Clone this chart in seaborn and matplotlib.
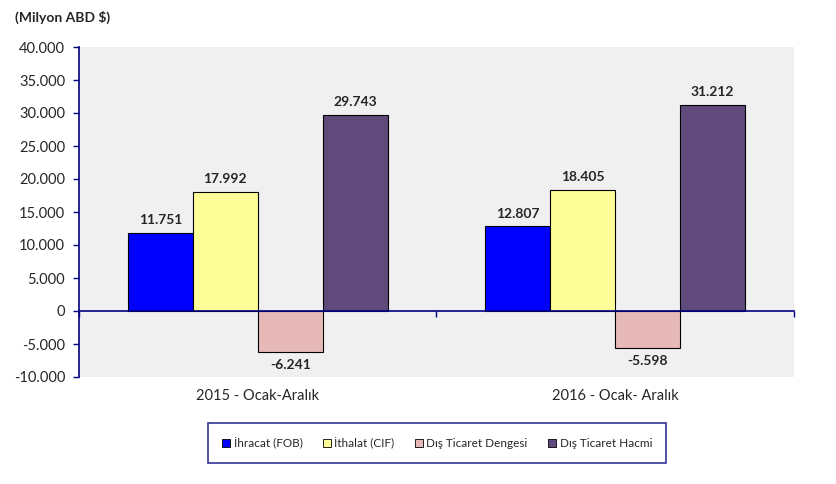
import matplotlib
matplotlib.use("Agg")
import matplotlib.pyplot as plt
import matplotlib.transforms as mtransforms
from matplotlib.patches import Patch
import seaborn as sns
import pandas as pd

periods = ["2015 - Ocak-Aralık", "2016 - Ocak- Aralık"]
series = ["İhracat (FOB)", "İthalat (CIF)", "Dış Ticaret Dengesi", "Dış Ticaret Hacmi"]
ihracat = [11751, 12807]
ithalat = [17992, 18405]
denge = [-6241, -5598]
hacim = [29743, 31212]
colors = ["#0000FF", "#FFFF99", "#E6B9B8", "#604A7B"]
yticks = [-10000, -5000, 0, 5000, 10000, 15000, 20000, 25000, 30000, 35000, 40000]

rows = []
for name, vals in zip(series, [ihracat, ithalat, denge, hacim]):
    for p, v in zip(periods, vals):
        rows.append({"period": p, "series": name, "value": v})
df = pd.DataFrame(rows)

sns.set_theme(style="white")
plt.rcParams["font.family"] = ["Lato", "DejaVu Sans"]
navy = "#000080"

fig = plt.figure(figsize=(8.37, 4.84), dpi=100)
ax = fig.add_axes([79/837, 1-377/484, (794-79)/837, (377-47)/484])
ax.set_facecolor("#F0F0F0")

sns.barplot(data=df, x="period", y="value", hue="series", hue_order=series,
            order=periods, palette=colors, width=0.727, edgecolor="black",
            linewidth=0.8, ax=ax, legend=False, saturation=1)

ax.set_ylim(-10000, 40000)
ax.set_xlim(-0.5, 1.5)
ax.set_yticks(yticks)
ax.set_yticklabels([f"{v:,}".replace(",", ".") for v in yticks], fontsize=10.5)
ax.tick_params(axis="y", direction="out", length=4, color=navy, width=1, pad=6, left=True)
ax.set_xlabel("")
ax.set_ylabel("")

for s in ["top", "right"]:
    ax.spines[s].set_visible(False)
ax.spines["left"].set_color(navy)
ax.spines["left"].set_linewidth(1.2)
ax.spines["bottom"].set_position(("data", 0))
ax.spines["bottom"].set_color(navy)
ax.spines["bottom"].set_linewidth(1.2)
ax.set_xticks([-0.5, 0.5, 1.5])
ax.set_xticklabels([])
ax.tick_params(axis="x", direction="out", length=4, color=navy, width=1, bottom=True)

trans = mtransforms.blended_transform_factory(ax.transData, ax.transAxes)
for i, p in enumerate(periods):
    ax.text(i, -0.057, p, transform=trans, ha="center", va="center", fontsize=10.5)

for c in ax.containers:
    for bar in c:
        h = bar.get_height()
        x = bar.get_x() + bar.get_width() / 2
        lbl = f"{int(h):,}".replace(",", ".")
        if h >= 0:
            ax.annotate(lbl, (x, h), xytext=(0, 5), textcoords="offset points",
                        ha="center", va="bottom", fontsize=10, fontweight="bold")
        else:
            ax.annotate(lbl, (x, h), xytext=(0, -5), textcoords="offset points",
                        ha="center", va="top", fontsize=10, fontweight="bold")

fig.text(15/837, 1-17/484, "(Milyon ABD $)", fontsize=10, fontweight="bold",
         ha="left", va="center")

handles = [Patch(facecolor=c, edgecolor="black", linewidth=0.6) for c in colors]
leg = fig.legend(handles, series, loc="center",
                 bbox_to_anchor=((212+662)/2/837, 1-443/484), ncol=4,
                 fontsize=8.5, frameon=True, fancybox=False,
                 handlelength=0.7, handleheight=0.7, handletextpad=0.3,
                 columnspacing=1.7, borderpad=1.2, borderaxespad=0)
leg.get_frame().set_edgecolor(navy)
leg.get_frame().set_linewidth(1.2)

fig.savefig("out.png", dpi=100)
